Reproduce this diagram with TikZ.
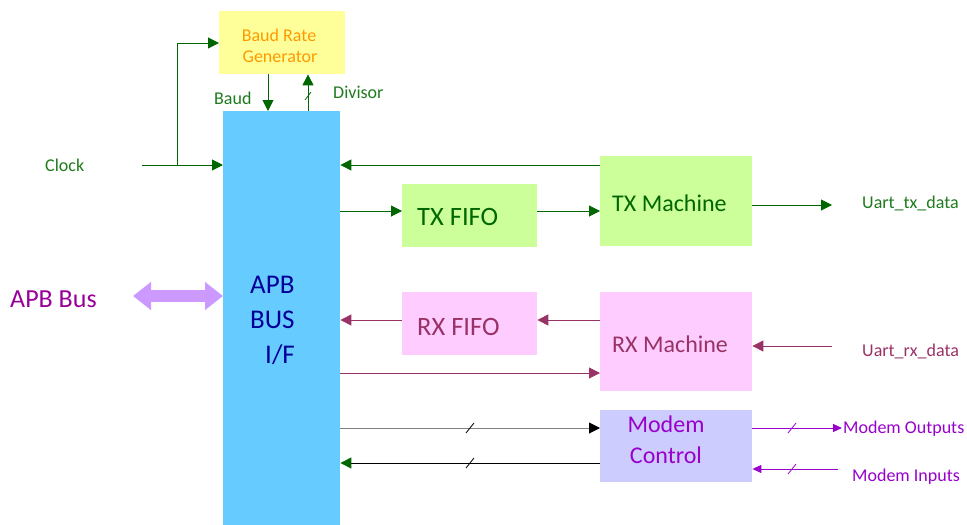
\documentclass[tikz,border=0pt]{standalone}
\usepackage{fontspec}
\setmainfont{Carlito}
\usetikzlibrary{arrows.meta}
\definecolor{dgreen}{HTML}{006600}
\definecolor{tgreen}{HTML}{1E7B1E}
\definecolor{brgfill}{HTML}{FFFF99}
\definecolor{brgtext}{HTML}{FF9900}
\definecolor{apbfill}{HTML}{66CCFF}
\definecolor{apbtext}{HTML}{000099}
\definecolor{txfill}{HTML}{CCFF99}
\definecolor{rxfill}{HTML}{FFCCFF}
\definecolor{rxc}{HTML}{993366}
\definecolor{mdfill}{HTML}{CCCCFF}
\definecolor{mdc}{HTML}{9900CC}
\definecolor{busc}{HTML}{CC99FF}
\definecolor{bustext}{HTML}{990099}
\begin{document}
\begin{tikzpicture}[x=1pt,y=-1pt,
  blk/.style={draw=none, inner sep=0pt, anchor=north west},
  txt/.style={inner sep=0pt, text depth=0pt},
  lbl/.style={txt, font=\fontsize{18}{20}\selectfont, text height=11.6pt},
  big/.style={txt, font=\fontsize{24}{26}\selectfont, text height=15.5pt},
  fifo/.style={txt, font=\fontsize{26.5}{28}\selectfont, text height=17pt},
  apbf/.style={txt, font=\fontsize{27}{29}\selectfont, text height=17.4pt},
  tip/.style={-{Triangle[length=11pt,width=11pt]}},
  gl/.style={tip, draw=dgreen, line width=1pt},
  rl/.style={tip, draw=rxc, line width=1pt},
  ml/.style={-{Triangle[length=9pt,width=8pt]}, draw=mdc, line width=1pt},
  slash/.style={line width=0.8pt}
]
\useasboundingbox[fill=white] (0,0) rectangle (967,525);

% helper coordinates
\coordinate (r43) at (0,43);
\coordinate (r165) at (0,165);
\coordinate (r210) at (0,211);
\coordinate (r320) at (0,320);
\coordinate (r373) at (0,373);
\coordinate (r428) at (0,428);
\coordinate (r463) at (0,463);
\coordinate (c268) at (268,0);
\coordinate (c308) at (308,0);

% blocks
\node[blk, fill=brgfill, minimum width=126pt, minimum height=63pt] (brg) at (219,11) {};
\node[blk, fill=apbfill, minimum width=117pt, minimum height=414pt] (apb) at (223,111) {};
\node[blk, fill=txfill, minimum width=135pt, minimum height=63pt] (txf) at (402,184) {};
\node[blk, fill=txfill, minimum width=152pt, minimum height=90pt] (txm) at (600,156) {};
\node[blk, fill=rxfill, minimum width=135pt, minimum height=63pt] (rxf) at (402,292) {};
\node[blk, fill=rxfill, minimum width=152pt, minimum height=99pt] (rxm) at (600,292) {};
\node[blk, fill=mdfill, minimum width=152pt, minimum height=72pt] (mdm) at (600,410) {};

% block texts
\node[lbl, text=brgtext] (brgt1) at (279,36) {Baud Rate};
\node[lbl, text=brgtext] (brgt2) at (280,57) {Generator};
\node[apbf, text=apbtext, anchor=west] (apbt1) at (250,285) {APB};
\node[apbf, text=apbtext, anchor=west] (apbt2) at (250,320) {BUS};
\node[apbf, text=apbtext, anchor=west] (apbt3) at (265,355) {I/F};
\node[fifo, text=dgreen, anchor=west] (txft) at (417,217) {TX FIFO};
\node[big, text=dgreen, anchor=west] (txmt) at (612,204) {TX Machine};
\node[fifo, text=rxc, anchor=west] (rxft) at (417,327) {RX FIFO};
\node[big, text=rxc, anchor=west] (rxmt) at (612,345) {RX Machine};
\node[big, text=mdc] (mdt1) at (666,425) {Modem};
\node[big, text=mdc] (mdt2) at (666,456) {Control};

% outside labels
\node[lbl, text=tgreen, anchor=west] (clkt) at (45,166) {Clock};
\node[lbl, text=tgreen, anchor=west] (baudt) at (214,99) {Baud};
\node[lbl, text=tgreen, anchor=west] (divt) at (333,93) {Divisor};
\node[lbl, text=tgreen, anchor=west] (uttx) at (862,203) {Uart\_tx\_data};
\node[lbl, text=rxc, anchor=west] (utrx) at (862,351) {Uart\_rx\_data};
\node[lbl, text=mdc, anchor=west] (mout) at (843,428) {Modem Outputs};
\node[lbl, text=mdc, anchor=west] (min) at (852,476) {Modem Inputs};
\node[txt, font=\fontsize{26}{28}\selectfont, text height=16.7pt, text=bustext, anchor=west] (bust) at (10,299) {APB Bus};

% free ends
\coordinate (clk) at (142,165);
\coordinate (br) at (177,165);
\coordinate (txout) at (832,205);
\coordinate (rxin) at (832,346);
\coordinate (mout0) at (842,428);
\coordinate (min0) at (838,469);
\coordinate (busL) at (133,296);

% clock and baud generator
\draw[gl] (clk) -- (apb.west |- clk);
\draw[gl] (br) |- (brg.west |- r43);
\draw[gl] (brg.south -| c268) -- (apb.north -| c268);
\draw[gl] (apb.north -| c308) -- (brg.south -| c308);
\draw[slash, dgreen] (305,100) -- (311,92);

% TX path
\draw[gl] (txm.west |- r165) -- (apb.east |- r165);
\draw[gl] (apb.east |- r210) -- (txf.west |- r210);
\draw[gl] (txf.east |- r210) -- (txm.west |- r210);
\draw[gl] (txm.east |- txout) -- (txout);

% RX path
\draw[rl] (rxf.west |- r320) -- (apb.east |- r320);
\draw[rl] (rxm.west |- r320) -- (rxf.east |- r320);
\draw[rl] (rxin) -- (rxm.east |- rxin);
\draw[rl] (apb.east |- r373) -- (rxm.west |- r373);

% modem
\draw[-{Triangle[length=11pt,width=11pt,color=black]}, draw=gray, line width=1pt] (apb.east |- r428) -- (mdm.west |- r428);
\draw[slash] (466,433) -- (474,423);
\draw[-{Triangle[length=11pt,width=11pt,color=dgreen]}, draw=black, line width=1pt] (mdm.west |- r463) -- (apb.east |- r463);
\draw[slash] (466,468) -- (474,458);
\draw[ml] (mdm.east |- mout0) -- (mout0);
\draw[slash, mdc] (788,433) -- (796,423);
\draw[ml] (min0) -- (mdm.east |- min0);
\draw[slash, mdc] (788,474) -- (796,464);

% APB bus double arrow
\draw[busc, line width=12pt, {Triangle[length=18pt,width=27pt]}-{Triangle[length=18pt,width=27pt]}] (busL) -- (apb.west |- busL);
\end{tikzpicture}
\end{document}
